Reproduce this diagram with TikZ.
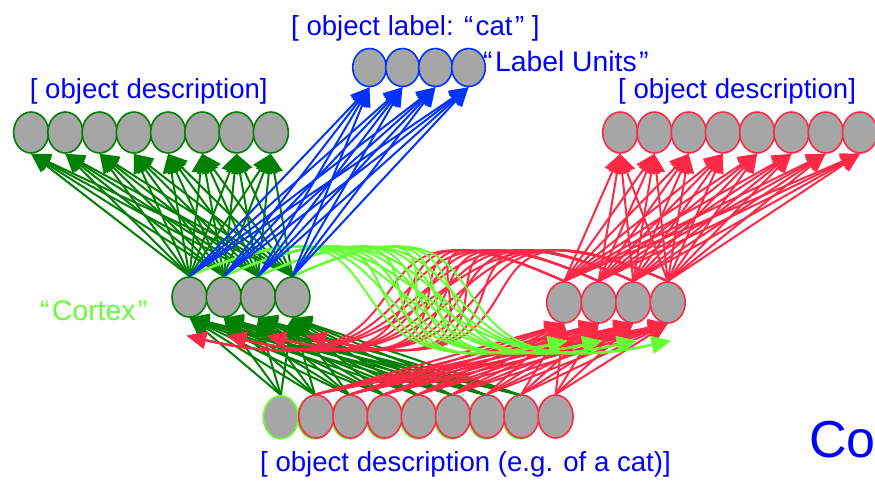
\documentclass[tikz,border=0pt]{standalone}
\usepackage{fontspec}
\setmainfont{Liberation Sans}
\usetikzlibrary{shapes.geometric,arrows.meta}
\pgfdeclarelayer{wires}
\pgfsetlayers{wires,main}

\definecolor{dkgreen}{RGB}{0,128,0}
\definecolor{ltgreen}{RGB}{102,255,51}
\definecolor{netred}{RGB}{255,40,70}
\definecolor{netblue}{RGB}{0,51,255}
\definecolor{txtblue}{RGB}{0,0,255}
\definecolor{unitgray}{RGB}{166,166,166}

% wide opening / closing quotes
\newcommand{\openq}{“\kern2.5pt}
\newcommand{\closeq}{\kern2.5pt”}

\begin{document}
\begin{tikzpicture}[x=1pt,y=-1pt,
  unit/.style={ellipse, fill=unitgray, line width=1.6pt, inner sep=0pt,
               minimum width=35pt, minimum height=41pt},
  cortexunit/.style={unit, minimum height=40pt},
  labelunit/.style={unit, draw=netblue, minimum width=33.6pt, minimum height=38pt},
  inputunit/.style={unit, minimum height=43pt},
  wire/.style={line width=2pt, -{Triangle[length=19pt,width=17pt]}},
  caption/.style={inner sep=0pt, anchor=base west, text=txtblue,
                  font=\fontsize{27.6}{33}\selectfont},
  tag/.style={caption, font=\fontsize{28.3}{34}\selectfont},
]
\useasboundingbox (0,0) rectangle (875,485);

% ---- units ----
% label units
\foreach \i in {1,...,4}
  \node[labelunit] (U\i) at ({369.5+33*(\i-1)},67.5) {};
% left and right description layers
\foreach \i in {1,...,8}
  \node[unit, draw=dkgreen] (L\i) at ({31.1+34.25*(\i-1)},132.5) {};
\foreach \i in {1,...,8}
  \node[unit, draw=netred] (R\i) at ({620.2+34.25*(\i-1)},132.5) {};
% two cortex groups
\foreach \i in {1,...,4}
  \node[cortexunit, draw=dkgreen] (Cl\i) at ({189.5+34.3*(\i-1)},297) {};
\foreach \i in {1,...,4}
  \node[cortexunit, draw=netred, minimum height=41pt] (Cr\i) at ({564.2+34.5*(\i-1)},302.5) {};
% input row: two overlapping 8-unit descriptions
\foreach \i in {1,...,8}
  \node[inputunit, draw=ltgreen] (Bg\i) at ({280.8+34.2*(\i-1)},417.3) {};
\foreach \i in {2,...,9}
  \node[inputunit, draw=netred] (Br\i) at ({282+34.2*(\i-1)},416.5) {};

% end points of the cross-hemisphere projections
\foreach \j in {1,...,4} {
  \path (Cr\j.south) ++(3,17) coordinate (gt\j);
  \path (Cl\j.south) ++({-2.5+5.7*(\j-1)},18) coordinate (rt\j);
}

% ---- connections ----
\begin{pgfonlayer}{wires}
  \foreach \j in {1,...,4}
    \foreach \i in {1,...,8}
      \draw[wire, dkgreen] (Cl\j.north) -- (L\i.south);
  \foreach \j in {1,...,4}
    \foreach \i in {1,...,8}
      \draw[wire, netred] (Cr\j.north) -- (R\i.south);
  \foreach \i in {1,...,8}
    \foreach \j in {1,...,4}
      \draw[wire, dkgreen] (Bg\i.north) -- (Cl\j.south);
  \foreach \i in {2,...,9}
    \foreach \j in {1,...,4}
      \draw[wire, netred] (Br\i.north) -- (Cr\j.south);
  \foreach \i in {1,...,4}
    \foreach \j in {1,...,4}
      \draw[wire, netred] (Cr\i.north) .. controls +(-250,-112) and +(280,65) .. (rt\j);
  \foreach \i in {1,...,4}
    \foreach \j in {1,...,4}
      \draw[wire, ltgreen] (Cl\i.north) .. controls +(250,-110) and +(-280,60) .. (gt\j);
  \foreach \j in {1,...,4}
    \foreach \i in {1,...,4}
      \draw[wire, netblue] (Cl\j.north) -- (U\i.south);
\end{pgfonlayer}

% ---- captions ----
\node[caption] (tcat) at (291,35) {[ object label: \openq cat\closeq\ ]};
\node[tag] (tlu) at (483,71) {\openq Label Units\closeq};
\node[caption] (tld) at (29.7,98.5) {[ object description]};
\node[caption] (trd) at (618,98.5) {[ object description]};
\node[caption] (tbd) at (260,471) {[ object description (e.g. of a cat)]};
\node[tag, text=ltgreen] (tcx) at (40,320) {\openq Cortex\closeq};
\node[caption, font=\fontsize{52}{60}\selectfont] (tco) at (809,457) {Co};
\end{tikzpicture}
\end{document}
